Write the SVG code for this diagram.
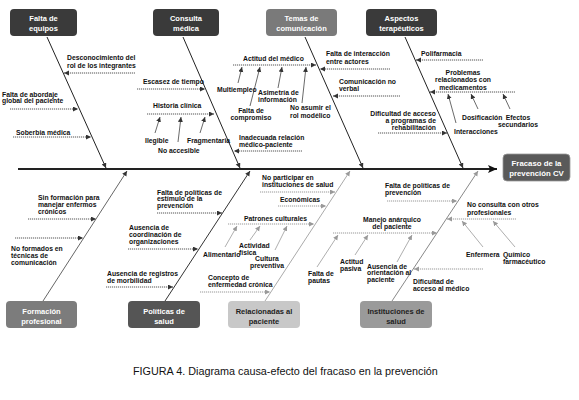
<svg xmlns="http://www.w3.org/2000/svg" width="579" height="400" viewBox="0 0 579 400">
<style>
text{font-family:"Liberation Sans",Arial,sans-serif;}
.l{font-size:6.8px;font-weight:bold;fill:#111;}
.m{text-anchor:middle;}
.e{text-anchor:end;}
.bt{font-size:7.5px;font-weight:bold;fill:#fff;text-anchor:middle;}
.btd{font-size:7.5px;font-weight:bold;fill:#222;text-anchor:middle;}
.bone{fill:none;stroke:#222;stroke-width:1;}
.d1{fill:none;stroke:#555;stroke-width:1;stroke-dasharray:1.2,0.8;}
.d2{fill:none;stroke:#999;stroke-width:1;stroke-dasharray:1.2,0.8;}
.s1{fill:none;stroke:#444;stroke-width:0.8;}
.s2{fill:none;stroke:#999;stroke-width:0.8;}
</style>
<defs>
<marker id="a1" markerUnits="userSpaceOnUse" markerWidth="6" markerHeight="6" refX="5" refY="2.5" orient="auto"><path d="M0,0 L5,2.5 L0,5 z" fill="#333"/></marker>
<marker id="a2" markerUnits="userSpaceOnUse" markerWidth="6" markerHeight="6" refX="5" refY="2.5" orient="auto"><path d="M0,0 L5,2.5 L0,5 z" fill="#999"/></marker>
<marker id="a3" markerUnits="userSpaceOnUse" markerWidth="12" markerHeight="10" refX="9" refY="4" orient="auto"><path d="M0,0 L9,4 L0,8 L2,4 z" fill="#111"/></marker>
</defs>

<g id="connectors">
<line x1="18" y1="169" x2="497" y2="169" stroke="#222" stroke-width="2" marker-end="url(#a3)"/>
<line class="bone" x1="47" y1="37" x2="106" y2="168" marker-end="url(#a1)"/>
<line class="bone" x1="183" y1="37" x2="240" y2="168" marker-end="url(#a1)"/>
<line class="bone" x1="305" y1="37" x2="363" y2="168" marker-end="url(#a1)"/>
<line class="bone" x1="405" y1="37" x2="463" y2="168" marker-end="url(#a1)"/>
<line x1="43" y1="301" x2="127" y2="171" stroke="#666" stroke-width="1" marker-end="url(#a1)"/>
<line x1="165" y1="301" x2="250" y2="171" stroke="#333" stroke-width="1" marker-end="url(#a1)"/>
<line x1="265" y1="301" x2="350" y2="171" stroke="#aaa" stroke-width="1" marker-end="url(#a2)"/>
<line x1="392" y1="301" x2="478" y2="171" stroke="#888" stroke-width="1" marker-end="url(#a2)"/>

<line class="d1" x1="135" y1="73" x2="64" y2="73" marker-end="url(#a1)"/>
<line class="d1" x1="10" y1="109" x2="78" y2="109" marker-end="url(#a1)"/>
<line class="d1" x1="13" y1="137" x2="91" y2="137" marker-end="url(#a1)"/>

<line class="d1" x1="137" y1="89" x2="205" y2="89" marker-end="url(#a1)"/>
<line class="d1" x1="147" y1="114" x2="214" y2="114" marker-end="url(#a1)"/>
<line class="s1" x1="155" y1="133" x2="160" y2="117" marker-end="url(#a1)"/>
<line class="s1" x1="178" y1="142" x2="181" y2="117" marker-end="url(#a1)"/>
<line class="s1" x1="200" y1="133" x2="205" y2="117" marker-end="url(#a1)"/>
<line class="d1" x1="302" y1="151" x2="234" y2="151" marker-end="url(#a1)"/>

<line class="d1" x1="233" y1="65" x2="316" y2="65" marker-end="url(#a1)"/>
<line class="s1" x1="238" y1="83" x2="242" y2="67" marker-end="url(#a1)"/>
<line class="s1" x1="278" y1="88" x2="282" y2="67" marker-end="url(#a1)"/>
<line class="s1" x1="250" y1="106" x2="260" y2="67" marker-end="url(#a1)"/>
<line class="s1" x1="302" y1="103" x2="306" y2="67" marker-end="url(#a1)"/>
<line class="d1" x1="390" y1="69" x2="320" y2="69" marker-end="url(#a1)"/>
<line class="d1" x1="400" y1="96" x2="333" y2="96" marker-end="url(#a1)"/>

<line class="d1" x1="483" y1="60" x2="416" y2="60" marker-end="url(#a1)"/>
<line class="d1" x1="515" y1="92" x2="430" y2="92" marker-end="url(#a1)"/>
<line class="s1" x1="456" y1="123" x2="448" y2="94" marker-end="url(#a1)"/>
<line class="s1" x1="478" y1="109" x2="471" y2="94" marker-end="url(#a1)"/>
<line class="s1" x1="510" y1="109" x2="503" y2="94" marker-end="url(#a1)"/>
<line class="d1" x1="378" y1="133" x2="447" y2="133" marker-end="url(#a1)"/>

<line class="d1" x1="28" y1="219" x2="96" y2="219" marker-end="url(#a1)"/>
<line class="d1" x1="15" y1="238" x2="83" y2="238" marker-end="url(#a1)"/>

<line class="d1" x1="157" y1="213" x2="222" y2="213" marker-end="url(#a1)"/>
<line class="d1" x1="128" y1="249" x2="198" y2="249" marker-end="url(#a1)"/>
<line class="d1" x1="106" y1="287" x2="173" y2="287" marker-end="url(#a1)"/>

<line class="d2" x1="260" y1="192" x2="335" y2="192" marker-end="url(#a2)"/>
<line class="d2" x1="278" y1="206" x2="326" y2="206" marker-end="url(#a2)"/>
<line class="d2" x1="228" y1="224" x2="314" y2="224" marker-end="url(#a2)"/>
<line class="s2" x1="225" y1="247" x2="237" y2="226" marker-end="url(#a2)"/>
<line class="s2" x1="250" y1="240" x2="260" y2="226" marker-end="url(#a2)"/>
<line class="s2" x1="275" y1="250" x2="287" y2="226" marker-end="url(#a2)"/>
<line class="d2" x1="200" y1="292" x2="270" y2="292" marker-end="url(#a2)"/>

<line class="d2" x1="387" y1="201" x2="457" y2="201" marker-end="url(#a2)"/>
<line class="d2" x1="516" y1="219" x2="447" y2="219" marker-end="url(#a2)"/>
<line class="s2" x1="483" y1="247" x2="462" y2="221" marker-end="url(#a2)"/>
<line class="s2" x1="515" y1="247" x2="493" y2="221" marker-end="url(#a2)"/>
<line class="d2" x1="333" y1="233" x2="437" y2="233" marker-end="url(#a2)"/>
<line class="s2" x1="317" y1="267" x2="338" y2="235" marker-end="url(#a2)"/>
<line class="s2" x1="355" y1="255" x2="368" y2="235" marker-end="url(#a2)"/>
<line class="s2" x1="397" y1="262" x2="412" y2="235" marker-end="url(#a2)"/>
<line class="d2" x1="483" y1="269" x2="414" y2="269" marker-end="url(#a2)"/>
</g>

<g id="effect">
<rect x="503" y="154" width="67" height="27" rx="4" fill="#5a5a5a" stroke="#999" stroke-width="0.8"/>
<text class="bt" x="536.5" y="166" style="font-size:7.8px">Fracaso de la</text>
<text class="bt" x="536.5" y="176" style="font-size:7.8px">prevención CV</text>
</g>

<g id="falta-equipos">
<rect x="10" y="9" width="67" height="27" rx="4" fill="#3a3a3a"/>
<text class="bt" x="43.5" y="21">Falta de</text>
<text class="bt" x="43.5" y="31">equipos</text>
<text class="l" x="67" y="59.5">Desconocimiento del</text>
<text class="l" x="67" y="67.5">rol de los integrantes</text>
<text class="l" x="2" y="96.5">Falta de abordaje</text>
<text class="l" x="2" y="103">global del paciente</text>
<text class="l" x="16" y="134.5">Soberbia médica</text>
</g>

<g id="consulta-medica">
<rect x="153" y="9" width="66" height="27" rx="4" fill="#3a3a3a"/>
<text class="bt" x="186" y="21">Consulta</text>
<text class="bt" x="186" y="31">médica</text>
<text class="l" x="143" y="83.5">Escasez de tiempo</text>
<text class="l" x="153" y="107.5">Historia clínica</text>
<text class="l" x="145" y="142.5">Ilegible</text>
<text class="l" x="158" y="152.5">No accesible</text>
<text class="l" x="187" y="142.5">Fragmentaria</text>
<text class="l" x="239" y="139.5">Inadecuada relación</text>
<text class="l" x="239" y="146.5">médico-paciente</text>
</g>

<g id="temas-comunicacion">
<rect x="266" y="9" width="71" height="27" rx="4" fill="#7a7a7a"/>
<text class="bt" x="301.5" y="21">Temas de</text>
<text class="bt" x="301.5" y="31">comunicación</text>
<text class="l" x="243" y="60.5">Actitud del médico</text>
<text class="l" x="217" y="91.5">Multiempleo</text>
<text class="l" x="258" y="94.5">Asimetría de</text>
<text class="l" x="258" y="101.5">información</text>
<text class="l m" x="251" y="112.5">Falta de</text>
<text class="l m" x="251" y="119.5">compromiso</text>
<text class="l" x="290" y="109.5">No asumir el</text>
<text class="l" x="290" y="117.5">rol modélico</text>
<text class="l" x="326" y="55.5">Falta de interacción</text>
<text class="l" x="326" y="63.5">entre actores</text>
<text class="l" x="339" y="83.5">Comunicación no</text>
<text class="l" x="339" y="90.5">verbal</text>
</g>

<g id="aspectos-terapeuticos">
<rect x="366" y="9" width="71" height="27" rx="4" fill="#3a3a3a"/>
<text class="bt" x="401.5" y="21">Aspectos</text>
<text class="bt" x="401.5" y="31">terapéuticos</text>
<text class="l" x="421" y="55.5">Polifarmacia</text>
<text class="l m" x="463" y="74.5">Problemas</text>
<text class="l m" x="463" y="82">relacionados con</text>
<text class="l m" x="463" y="89.5">medicamentos</text>
<text class="l" x="454" y="133.5">Interacciones</text>
<text class="l" x="462" y="119.5">Dosificación</text>
<text class="l m" x="518" y="119.5">Efectos</text>
<text class="l m" x="518" y="126.5">secundarios</text>
<text class="l e" x="436" y="115.5">Dificultad de acceso</text>
<text class="l e" x="436" y="123">a programas de</text>
<text class="l e" x="436" y="130">rehabilitación</text>
</g>

<g id="formacion-profesional">
<rect x="6" y="301" width="71" height="27" rx="4" fill="#7c7c7c"/>
<text class="bt" x="41.5" y="314">Formación</text>
<text class="bt" x="41.5" y="323.5">profesional</text>
<text class="l" x="38" y="199.5">Sin formación para</text>
<text class="l" x="38" y="206.5">manejar enfermos</text>
<text class="l" x="38" y="213.5">crónicos</text>
<text class="l" x="11" y="250.5">No formados en</text>
<text class="l" x="11" y="257.5">técnicas de</text>
<text class="l" x="11" y="264.5">comunicación</text>
</g>

<g id="politicas-salud">
<rect x="128" y="301" width="72" height="27" rx="4" fill="#555"/>
<text class="bt" x="164" y="314">Políticas de</text>
<text class="bt" x="164" y="323.5">salud</text>
<text class="l" x="157" y="194.5">Falta de políticas de</text>
<text class="l" x="157" y="201">estímulo de la</text>
<text class="l" x="157" y="207.5">prevención</text>
<text class="l" x="129" y="229.5">Ausencia de</text>
<text class="l" x="129" y="236.5">coordinación de</text>
<text class="l" x="129" y="244">organizaciones</text>
<text class="l" x="107" y="275.5">Ausencia de registros</text>
<text class="l" x="107" y="282.5">de morbilidad</text>
</g>

<g id="relacionadas-paciente">
<rect x="228" y="301" width="72" height="27" rx="4" fill="#c8c8c8"/>
<text class="btd" x="264" y="314">Relacionadas al</text>
<text class="btd" x="264" y="323.5">paciente</text>
<text class="l" x="262" y="179.5">No participar en</text>
<text class="l" x="262" y="186.5">instituciones de salud</text>
<text class="l" x="280" y="201.5">Económicas</text>
<text class="l" x="244" y="220.5">Patrones culturales</text>
<text class="l" x="203" y="256.5">Alimentario</text>
<text class="l" x="239" y="247.5">Actividad</text>
<text class="l" x="239" y="254.5">física</text>
<text class="l m" x="267" y="260.5">Cultura</text>
<text class="l m" x="267" y="267.5">preventiva</text>
<text class="l" x="208" y="279.5">Concepto de</text>
<text class="l" x="208" y="287">enfermedad crónica</text>
</g>

<g id="instituciones-salud">
<rect x="360" y="301" width="72" height="27" rx="4" fill="#9a9a9a"/>
<text class="btd" x="396" y="314">Instituciones de</text>
<text class="btd" x="396" y="323.5">salud</text>
<text class="l" x="385" y="187.5">Falta de políticas de</text>
<text class="l" x="385" y="194.5">prevención</text>
<text class="l" x="467" y="206.5">No consulta con otros</text>
<text class="l" x="467" y="214.5">profesionales</text>
<text class="l" x="466" y="256.5">Enfermera</text>
<text class="l" x="503" y="256.5">Químico</text>
<text class="l" x="503" y="263.5">farmacéutico</text>
<text class="l m" x="392" y="221.5">Manejo anárquico</text>
<text class="l m" x="392" y="228.5">del paciente</text>
<text class="l" x="308" y="275.5">Falta de</text>
<text class="l" x="308" y="282.5">pautas</text>
<text class="l" x="340" y="263.5">Actitud</text>
<text class="l" x="340" y="270.5">pasiva</text>
<text class="l" x="367" y="268.5">Ausencia de</text>
<text class="l" x="367" y="275">orientación al</text>
<text class="l" x="367" y="281.5">paciente</text>
<text class="l" x="413" y="283.5">Dificultad de</text>
<text class="l" x="413" y="290.5">acceso al médico</text>
</g>

<text x="133" y="375" style="font-size:10.8px;fill:#111">FIGURA 4. Diagrama causa-efecto del fracaso en la prevención</text>
</svg>
